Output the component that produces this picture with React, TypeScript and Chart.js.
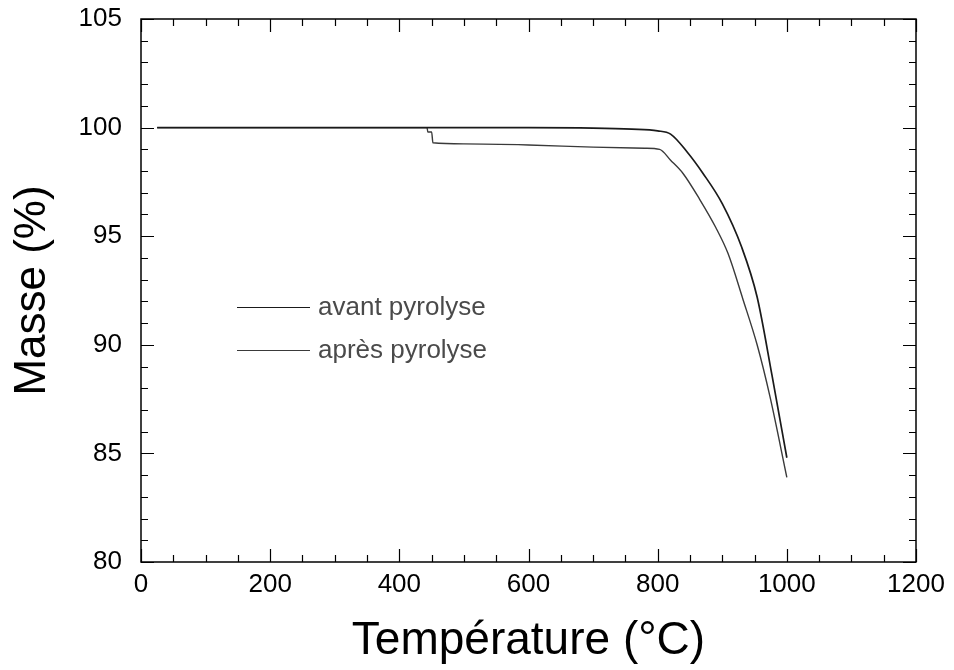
import { useEffect, useRef } from 'react';
import { Chart, registerables } from 'chart.js';

Chart.register(...registerables);

// Température (°C) / Masse (%)
const avantTemp = [25, 200, 400, 600, 700, 760, 800, 820, 845, 870, 900, 930, 954, 977, 1000];
const avantMass = [100, 100, 100, 100, 99.98, 99.93, 99.85, 99.7, 98.9, 97.9, 96.5, 94.5, 92.2, 88.6, 84.8];

const apresTemp = [25, 200, 443, 444, 450, 452, 500, 600, 700, 780, 803, 820, 839, 865, 890, 909, 932, 954, 974, 1000];
const apresMass = [100, 100, 100, 99.8, 99.8, 99.3, 99.25, 99.2, 99.1, 99.05, 99.0, 98.5, 97.9, 96.7, 95.4, 94.2, 92.1, 90.0, 87.6, 83.9];

const seriesLabels = ['avant pyrolyse', 'après pyrolyse'];
const xTickValues = [0, 200, 400, 600, 800, 1000, 1200];
const yTickValues = [80, 85, 90, 95, 100, 105];

const FONT = "'Liberation Sans', Arial, Helvetica, sans-serif";

const framePlugin = {
  id: 'frameTicks',
  afterDraw(chart: any) {
    const { ctx, chartArea } = chart;
    const { left, right, top, bottom } = chartArea;
    const xs = chart.scales.x;
    const ys = chart.scales.y;
    ctx.save();
    ctx.strokeStyle = '#000';
    ctx.lineWidth = 1.5;
    ctx.strokeRect(left, top, right - left, bottom - top);
    ctx.lineWidth = 1.2;
    ctx.beginPath();
    for (let v = xs.min; v <= xs.max + 1e-6; v += 50) {
      const px = Math.round(xs.getPixelForValue(v)) + 0.5;
      const len = v % 200 === 0 ? 13 : 7;
      ctx.moveTo(px, bottom);
      ctx.lineTo(px, bottom - len);
      ctx.moveTo(px, top);
      ctx.lineTo(px, top + len);
    }
    for (let v = ys.min; v <= ys.max + 1e-6; v += 1) {
      const py = Math.round(ys.getPixelForValue(v)) + 0.5;
      const len = v % 5 === 0 ? 13 : 7;
      ctx.moveTo(left, py);
      ctx.lineTo(left + len, py);
      ctx.moveTo(right, py);
      ctx.lineTo(right - len, py);
    }
    ctx.stroke();

    // legend (in-plot labels)
    const ds = chart.data.datasets;
    const lx0 = left + 96;
    const lx1 = left + 169;
    const rows = [307, 350];
    ctx.font = `26px ${FONT}`;
    ctx.textBaseline = 'middle';
    ctx.textAlign = 'left';
    ds.forEach((d: any, i: number) => {
      ctx.strokeStyle = d.borderColor;
      ctx.lineWidth = 1.2;
      ctx.beginPath();
      ctx.moveTo(lx0, rows[i] + 0.5);
      ctx.lineTo(lx1, rows[i] + 0.5);
      ctx.stroke();
      ctx.fillStyle = '#4a4a4a';
      ctx.fillText(d.label, lx1 + 8, rows[i] + 1);
    });
    ctx.restore();
  },
};

export default function App() {
  const ref = useRef<HTMLCanvasElement | null>(null);
  useEffect(() => {
    if (!ref.current) return;
    const chart = new Chart(ref.current, {
      type: 'line',
      data: {
        datasets: [
          {
            label: seriesLabels[0],
            data: avantTemp.map((t, i) => ({ x: t, y: avantMass[i] })),
            borderColor: '#1a1a1a',
            borderWidth: 1.7,
            pointRadius: 0,
            cubicInterpolationMode: 'monotone',
            fill: false,
          },
          {
            label: seriesLabels[1],
            data: apresTemp.map((t, i) => ({ x: t, y: apresMass[i] })),
            borderColor: '#3a3a3a',
            borderWidth: 1.4,
            pointRadius: 0,
            cubicInterpolationMode: 'monotone',
            fill: false,
          },
        ],
      },
      options: {
        responsive: false,
        animation: false,
        events: [],
        layout: { padding: { left: 0, right: 38, top: 19, bottom: 0 } },
        plugins: { legend: { display: false }, tooltip: { enabled: false } },
        scales: {
          x: {
            type: 'linear',
            min: 0,
            max: 1200,
            afterBuildTicks: (s: any) => {
              s.ticks = xTickValues.map((v) => ({ value: v }));
            },
            afterFit: (s: any) => {
              s.height = 108;
            },
            grid: { display: false, drawTicks: false },
            border: { display: false },
            ticks: {
              color: '#000',
              padding: 7,
              maxRotation: 0,
              callback: (v: any) => String(v),
              font: { family: FONT, size: 26 },
            },
            title: {
              display: true,
              text: 'Température (°C)',
              color: '#000',
              padding: { top: 0, bottom: 1 },
              font: { family: FONT, size: 46 },
            },
          },
          y: {
            type: 'linear',
            min: 80,
            max: 105,
            afterBuildTicks: (s: any) => {
              s.ticks = yTickValues.map((v) => ({ value: v }));
            },
            afterFit: (s: any) => {
              s.width = 141;
              s.paddingTop = 0;
              s.paddingBottom = 0;
            },
            grid: { display: false, drawTicks: false },
            border: { display: false },
            ticks: {
              color: '#000',
              padding: 19,
              callback: (v: any) => String(v),
              font: { family: FONT, size: 26 },
            },
            title: {
              display: true,
              text: 'Masse (%)',
              color: '#000',
              padding: { top: 6, bottom: 0 },
              font: { family: FONT, size: 44 },
            },
          },
        },
      },
      plugins: [framePlugin],
    } as any);
    return () => chart.destroy();
  }, []);
  return (
    <div style={{ position: 'absolute', left: 0, top: 0, width: 954, height: 670, background: '#fff' }}>
      <canvas ref={ref} width={954} height={670} style={{ display: 'block' }} />
    </div>
  );
}
